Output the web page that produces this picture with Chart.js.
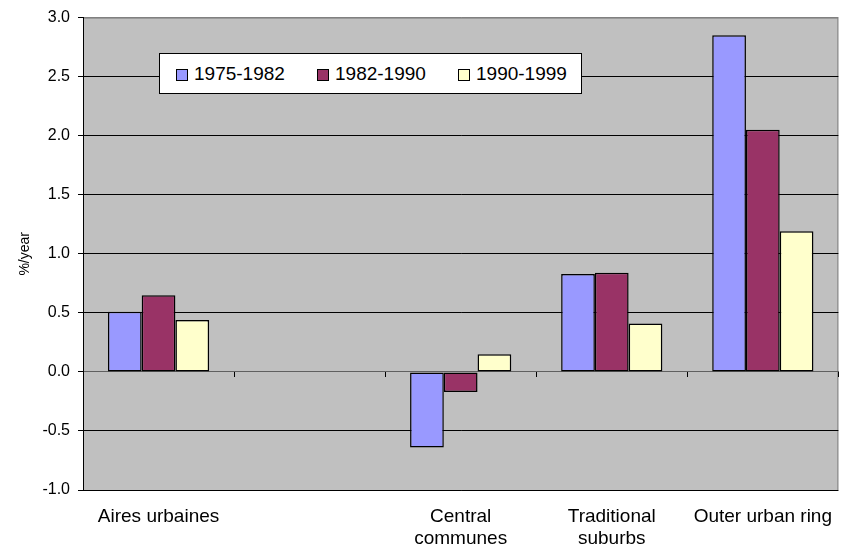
<!DOCTYPE html>
<html lang="en">
<head>
    <meta charset="UTF-8">
    <title>Population growth by zone</title>
    <script src="https://cdn.jsdelivr.net/npm/chart.js"></script>
    <style>
        body {
            margin: 0;
            font-family: "Liberation Sans", Arial, sans-serif;
            background: #ffffff;
        }
        .chart-container {
            position: relative;
            width: 849px;
            height: 549px;
        }
        #legend {
            position: absolute;
            left: 159px;
            top: 53px;
            width: 423px;
            height: 41px;
            background: #ffffff;
            border: 1px solid #000000;
            display: flex;
            align-items: center;
            padding-left: 16px;
            box-sizing: border-box;
            overflow: hidden;
        }
        #legend .item {
            flex: 0 0 141px;
            display: flex;
            align-items: center;
            font-size: 19px;
            color: #000000;
            white-space: nowrap;
        }
        #legend .swatch {
            width: 10px;
            height: 10px;
            border: 1px solid #000000;
            margin-right: 6px;
            margin-top: 2px;
        }
    </style>
</head>
<body>
    <div class="chart-container">
        <canvas id="growthChart"></canvas>
        <div id="legend"></div>
    </div>

    <script>
        // Data (%/year)
        const categories = ['Aires urbaines', '', ['Central', 'communes'], ['Traditional', 'suburbs'], 'Outer urban ring'];
        const periods = ['1975-1982', '1982-1990', '1990-1999'];
        const growth7582 = [0.51, null, -0.64, 0.83, 2.85];
        const growth8290 = [0.65, null, -0.17, 0.84, 2.05];
        const growth9099 = [0.44, null, 0.15, 0.41, 1.19];
        const yTicks = [-1.0, -0.5, 0.0, 0.5, 1.0, 1.5, 2.0, 2.5, 3.0];

        const colors = ['#9999FF', '#993366', '#FFFFCC'];
        const font = '"Liberation Sans", Arial, sans-serif';

        Chart.defaults.color = '#000000';
        Chart.defaults.font.family = font;

        // grey plot area like the old spreadsheet charts
        const plotArea = {
            id: 'plotArea',
            beforeDraw(chart) {
                const { ctx, chartArea: a } = chart;
                ctx.save();
                ctx.fillStyle = '#C0C0C0';
                ctx.fillRect(a.left, a.top, a.right - a.left, a.bottom - a.top);
                ctx.strokeStyle = '#808080';
                ctx.lineWidth = 1;
                ctx.strokeRect(a.left + 0.5, a.top + 0.5, a.right - a.left - 1, a.bottom - a.top);
                ctx.restore();
            }
        };

        const ctx = document.getElementById('growthChart').getContext('2d');
        const chart = new Chart(ctx, {
            type: 'bar',
            data: {
                labels: categories,
                datasets: [
                    { label: periods[0], data: growth7582, backgroundColor: colors[0] },
                    { label: periods[1], data: growth8290, backgroundColor: colors[1] },
                    { label: periods[2], data: growth9099, backgroundColor: colors[2] }
                ]
            },
            options: {
                responsive: true,
                maintainAspectRatio: false,
                animation: false,
                layout: { padding: { top: 15, right: 10, left: 0, bottom: 0 } },
                datasets: {
                    bar: {
                        borderColor: '#000000',
                        borderWidth: 1.5,
                        borderSkipped: false,
                        categoryPercentage: 0.67,
                        barPercentage: 1.0
                    }
                },
                plugins: {
                    legend: { display: false },
                    tooltip: { enabled: false }
                },
                scales: {
                    // axis line with tick marks sitting on zero
                    x: {
                        position: { y: 0 },
                        offset: true,
                        grid: {
                            display: true,
                            drawOnChartArea: false,
                            drawTicks: true,
                            tickLength: 5,
                            offset: true,
                            color: '#000000'
                        },
                        border: { display: true, color: '#606060' },
                        ticks: { display: false }
                    },
                    // category labels below the plot
                    x2: {
                        type: 'category',
                        labels: categories,
                        position: 'bottom',
                        offset: true,
                        grid: { display: false, drawTicks: false },
                        border: { display: false },
                        ticks: {
                            padding: 16,
                            maxRotation: 0,
                            autoSkip: false,
                            font: { size: 19, lineHeight: 1.15 }
                        },
                        afterFit(scale) { scale.height = 59; }
                    },
                    y: {
                        min: -1,
                        max: 3,
                        afterBuildTicks(scale) {
                            scale.ticks = yTicks.map(v => ({ value: v }));
                        },
                        afterFit(scale) { scale.width = 83; },
                        grid: {
                            color: c => c.tick && c.tick.value === 3 ? '#808080' : (c.tick && c.tick.value === 0 ? '#606060' : '#000000'),
                            tickColor: '#000000',
                            tickLength: 5
                        },
                        border: { display: true, color: '#000000' },
                        ticks: {
                            padding: 8,
                            font: { size: 16 },
                            callback: v => Number(v).toFixed(1)
                        },
                        title: {
                            display: true,
                            text: '%/year',
                            font: { size: 14 },
                            padding: { top: 17, bottom: 0 }
                        }
                    }
                }
            },
            plugins: [plotArea]
        });

        // legend box inside the plot
        const legend = document.getElementById('legend');
        chart.data.datasets.forEach(ds => {
            const item = document.createElement('div');
            item.className = 'item';
            const sw = document.createElement('span');
            sw.className = 'swatch';
            sw.style.background = ds.backgroundColor;
            const txt = document.createElement('span');
            txt.textContent = ds.label;
            item.appendChild(sw);
            item.appendChild(txt);
            legend.appendChild(item);
        });
    </script>
</body>
</html>
